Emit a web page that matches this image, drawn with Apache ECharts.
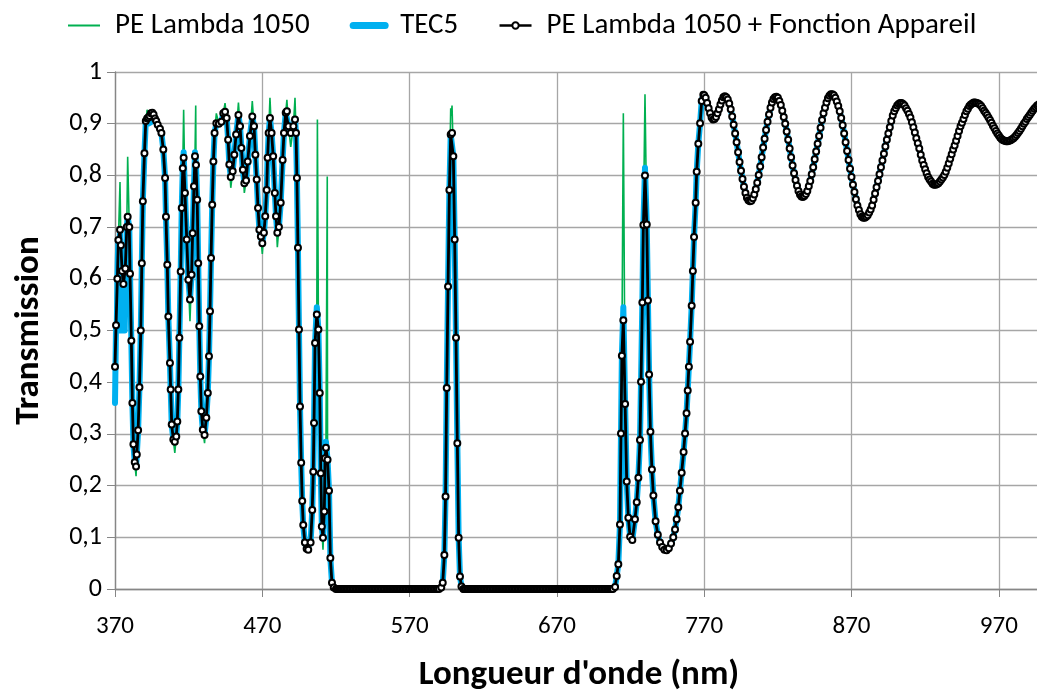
<!DOCTYPE html>
<html>
<head>
<meta charset="utf-8">
<title>Transmission</title>
<script src="https://cdn.jsdelivr.net/npm/echarts@6/dist/echarts.min.js"></script>
<style>
  html, body { margin: 0; padding: 0; background: #fff; }
  #main { width: 1037px; height: 690px; }
</style>
</head>
<body>
<div id="main"></div>
<script>
// longueurs d'onde (nm) et transmission de la courbe noire (PE Lambda 1050 + Fonction Appareil)
const blackNm = [
  370.0, 370.7, 371.6, 372.3, 373.4, 374.0, 374.8, 375.7, 377.0, 378.0, 378.6, 379.7, 380.2, 381.1, 381.8, 382.5,
  383.4, 384.3, 384.8, 385.7, 386.6, 387.5, 388.2, 388.9, 390.0, 390.9, 391.8, 392.6, 393.5, 394.4, 395.3, 396.2,
  397.1, 398.0, 399.0, 400.5, 401.5, 402.8, 404.0, 404.6, 405.5, 406.2, 407.3, 407.8, 408.5, 409.6, 410.6, 411.6,
  412.3, 413.0, 413.7, 414.6, 415.3, 416.0, 416.6, 417.5, 418.7, 419.8, 420.9, 422.0, 422.7, 423.6, 424.3, 425.0,
  425.8, 426.5, 427.2, 427.9, 428.6, 429.6, 430.8, 432.0, 433.0, 433.8, 434.5, 435.2, 436.0, 436.8, 437.6, 438.8,
  440.5, 442.2, 443.5, 444.7, 445.8, 446.8, 447.6, 448.6, 449.9, 451.0, 452.2, 453.8, 454.9, 455.8, 456.8, 457.8,
  459.0, 460.1, 461.6, 463.2, 464.4, 465.3, 466.2, 467.1, 468.0, 469.0, 470.0, 471.1, 472.0, 473.0, 473.6, 474.3,
  475.2, 476.3, 477.4, 478.5, 479.3, 480.2, 481.3, 482.5, 483.8, 484.7, 485.9, 486.7, 487.8, 489.3, 491.1, 492.2,
  492.9, 493.5, 494.2, 494.9, 495.6, 496.4, 497.1, 497.8, 498.9, 500.1, 501.2, 502.8, 503.9, 504.6, 505.1, 505.8,
  507.0, 508.1, 509.0, 509.7, 510.4, 511.2, 512.1, 512.6, 513.2, 514.3, 515.3, 516.2, 517.3, 518.5, 520,
  521, 522, 523, 524, 525, 526, 527, 528, 529, 530, 531, 532, 533, 534, 535, 536, 537, 538, 539, 540,
  541, 542, 543, 544, 545, 546, 547, 548, 549, 550, 551, 552, 553, 554, 555, 556, 557, 558, 559, 560,
  561, 562, 563, 564, 565, 566, 567, 568, 569, 570, 571, 572, 573, 574, 575, 576, 577, 578, 579, 580,
  581, 582, 583, 584, 585, 586, 587, 588, 589, 590,
  591.5, 592.5, 593.6, 594.4, 595.2, 596.1, 597.0, 597.9, 598.8, 599.7, 600.6, 601.5, 602.4, 603.3, 604.2, 605.2, 606.5,
  607, 608, 609, 610, 611, 612, 613, 614, 615, 616, 617, 618, 619, 620, 621, 622, 623, 624, 625, 626,
  627, 628, 629, 630, 631, 632, 633, 634, 635, 636, 637, 638, 639, 640, 641, 642, 643, 644, 645, 646,
  647, 648, 649, 650, 651, 652, 653, 654, 655, 656, 657, 658, 659, 660, 661, 662, 663, 664, 665, 666,
  667, 668, 669, 670, 671, 672, 673, 674, 675, 676, 677, 678, 679, 680, 681, 682, 683, 684, 685, 686,
  687, 688, 689, 690, 691, 692, 693, 694, 695, 696, 697, 698, 699, 700, 701, 702, 703, 704, 705, 706,
  707, 708,
  709.5, 710.6, 711.7, 712.8, 713.5, 714.1, 715.1, 716.3, 717.4, 718.5, 719.7, 721.2, 723.0, 724.2, 725.3, 726.4,
  727.1, 728.0, 728.7, 729.8, 731.0, 731.8, 732.6, 733.5, 734.5, 735.5, 737.0, 738.5, 740.0, 741.5, 743.0, 744.5,
  746.0, 747.5, 749.0, 750.2, 751.3, 752.4, 753.5, 754.7, 756.0, 757.0, 758.0, 758.8, 759.6, 760.4, 761.5, 762.3,
  763.1, 764.2, 764.9, 766.0, 767.2, 768.3, 769.4,
  770, 771, 772, 773, 774, 775, 776, 777, 778, 779, 780, 781, 782, 783, 784, 785, 786, 787, 788, 789,
  790, 791, 792, 793, 794, 795, 796, 797, 798, 799, 800, 801, 802, 803, 804, 805, 806, 807, 808, 809,
  810, 811, 812, 813, 814, 815, 816, 817, 818, 819, 820, 821, 822, 823, 824, 825, 826, 827, 828, 829,
  830, 831, 832, 833, 834, 835, 836, 837, 838, 839, 840, 841, 842, 843, 844, 845, 846, 847, 848, 849,
  850, 851, 852, 853, 854, 855, 856, 857, 858, 859, 860, 861, 862, 863, 864, 865, 866, 867, 868, 869,
  870, 871, 872, 873, 874, 875, 876, 877, 878, 879, 880, 881, 882, 883, 884, 885, 886, 887, 888, 889,
  890, 891, 892, 893, 894, 895, 896, 897, 898, 899, 900, 901, 902, 903, 904, 905, 906, 907, 908, 909,
  910, 911, 912, 913, 914, 915, 916, 917, 918, 919, 920, 921, 922, 923, 924, 925, 926, 927, 928, 929,
  930, 931, 932, 933, 934, 935, 936, 937, 938, 939, 940, 941, 942, 943, 944, 945, 946, 947, 948, 949,
  950, 951, 952, 953, 954, 955, 956, 957, 958, 959, 960, 961, 962, 963, 964, 965, 966, 967, 968, 969,
  970, 971, 972, 973, 974, 975, 976, 977, 978, 979, 980, 981, 982, 983, 984, 985, 986, 987, 988, 989,
  990, 991, 992, 993, 994, 995, 996, 997, 998, 999, 1000
];
const blackT = [
  .43, .51, .60, .675, .695, .665, .615, .59, .62, .70, .72, .70, .61, .48, .36, .28,
  .245, .237, .26, .307, .39, .50, .63, .75, .843, .905, .91, .912, .915, .92, .921, .918,
  .91, .905, .898, .89, .882, .85, .795, .72, .627, .527, .437, .386, .318, .289, .285, .295,
  .324, .386, .486, .614, .737, .814, .834, .766, .676, .598, .56, .608, .688, .779, .837, .82,
  .753, .63, .508, .411, .344, .308, .298, .331, .379, .45, .537, .64, .743, .827, .882, .901,
  .90, .904, .92, .923, .911, .869, .821, .797, .808, .84, .879, .917, .895, .853, .811, .785,
  .79, .827, .876, .914, .895, .84, .792, .737, .695, .682, .669, .689, .721, .772, .834, .882,
  .911, .882, .837, .766, .721, .689, .70, .747, .83, .882, .921, .924, .895, .882, .895, .908,
  .882, .795, .66, .502, .353, .244, .17, .124, .09, .078, .076, .09, .153, .227, .321, .476,
  .531, .502, .379, .224, .121, .099, .15, .253, .273, .25, .19, .06, .012, .003, 0,
  0, 0, 0, 0, 0, 0, 0, 0, 0, 0, 0, 0, 0, 0, 0, 0, 0, 0, 0, 0,
  0, 0, 0, 0, 0, 0, 0, 0, 0, 0, 0, 0, 0, 0, 0, 0, 0, 0, 0, 0,
  0, 0, 0, 0, 0, 0, 0, 0, 0, 0, 0, 0, 0, 0, 0, 0, 0, 0, 0, 0,
  0, 0, 0, 0, 0, 0, 0, 0, 0, 0,
  .003, .012, .066, .179, .389, .585, .772, .879, .882, .837, .676, .486, .282, .099, .024, .005, 0,
  0, 0, 0, 0, 0, 0, 0, 0, 0, 0, 0, 0, 0, 0, 0, 0, 0, 0, 0, 0,
  0, 0, 0, 0, 0, 0, 0, 0, 0, 0, 0, 0, 0, 0, 0, 0, 0, 0, 0, 0,
  0, 0, 0, 0, 0, 0, 0, 0, 0, 0, 0, 0, 0, 0, 0, 0, 0, 0, 0, 0,
  0, 0, 0, 0, 0, 0, 0, 0, 0, 0, 0, 0, 0, 0, 0, 0, 0, 0, 0, 0,
  0, 0, 0, 0, 0, 0, 0, 0, 0, 0, 0, 0, 0, 0, 0, 0, 0, 0, 0, 0,
  0, 0,
  .004, .025, .048, .125, .301, .451, .52, .358, .208, .138, .101, .095, .135, .168, .215, .288,
  .401, .554, .704, .80, .705, .558, .415, .304, .231, .181, .131, .105, .09, .081, .076, .075,
  .079, .088, .10, .115, .135, .158, .19, .225, .265, .301, .34, .384, .43, .478, .548, .615,
  .681, .747, .807, .861, .901, .944, .956,
  .955, .95, .94, .93, .92, .912, .908, .909, .913, .92, .928, .937, .945, .951, .953, .951, .947, .939, .928, .914,
  .898, .881, .864, .845, .826, .809, .793, .778, .766, .757, .752, .75, .751, .756, .763, .773, .786, .801, .817, .835,
  .854, .871, .888, .904, .918, .931, .941, .948, .951, .952, .95, .944, .936, .925, .913, .90, .885, .869, .852, .835,
  .819, .804, .791, .78, .77, .763, .759, .758, .76, .764, .77, .779, .789, .802, .816, .831, .846, .861, .876, .892,
  .907, .92, .931, .941, .949, .954, .957, .957, .955, .95, .943, .934, .924, .911, .897, .881, .864, .847, .83, .813,
  .797, .782, .768, .754, .742, .733, .725, .72, .718, .718, .72, .723, .728, .734, .742, .753, .765, .777, .789, .802,
  .816, .829, .842, .856, .869, .881, .893, .905, .916, .924, .93, .935, .938, .94, .94, .938, .935, .93, .925, .919,
  .912, .903, .893, .883, .872, .862, .852, .84, .829, .82, .812, .804, .797, .792, .788, .784, .782, .782, .783, .785,
  .788, .792, .796, .801, .807, .815, .823, .832, .841, .85, .858, .867, .876, .886, .895, .902, .909, .917, .924, .929,
  .934, .937, .939, .941, .941, .94, .939, .937, .934, .93, .925, .921, .917, .912, .907, .902, .896, .891, .886, .881,
  .877, .873, .87, .868, .867, .866, .866, .867, .868, .87, .872, .875, .878, .882, .886, .89, .895, .90, .904, .909,
  .913, .917, .921, .925, .929, .932, .935, .937, .939, .94, .94
];

// TEC5 : points où la courbe bleue s'écarte de la noire
const blueNm = [370.0, 371.2, 371.9, 372.6, 373.1, 373.7, 374.4, 375.2, 376.0, 376.6, 377.4,
  392.6, 393.5, 394.4, 395.3, 416.6, 424.3, 507.0, 513.2, 715.1, 729.8];
const blueT = [.36, .50, .64, .50, .64, .50, .63, .50, .62, .50, .63,
  .90, .90, .903, .905, .845, .845, .545, .285, .545, .815];

// PE Lambda 1050 : pics et creux où la courbe verte s'écarte de la noire
const greenNm = [370.0, 373.4, 378.6, 384.3, 391.8, 410.6, 416.6, 420.9, 424.8, 430.8, 438.8, 444.7,
  448.6, 453.8, 457.8, 463.2, 470.0, 475.2, 480.2, 486.7, 489.3, 492.2, 507.4, 511.2, 514.1,
  597.9, 598.3, 598.8, 715.1, 729.8, 856];
const greenT = [.37, .787, .836, .218, .927, .263, .927, .518, .935, .282, .92, .94,
  .776, .941, .766, .944, .648, .95, .661, .946, .855, .95, .908, .076, .798,
  .93, .915, .935, .92, .957, .963];

function withChanges(nm, t) {
  const m = new Map();
  blackNm.forEach((x, i) => m.set(x, blackT[i]));
  nm.forEach((x, i) => m.set(x, t[i]));
  return [...m.entries()].sort((a, b) => a[0] - b[0]);
}

const FONT = 'Carlito, Lato, "Open Sans", sans-serif';
const chart = echarts.init(document.getElementById('main'), null, {renderer: 'canvas'});

chart.setOption({
  animation: false,
  backgroundColor: '#fff',
  textStyle: {fontFamily: FONT, color: '#000'},
  legend: {
    left: 62,
    top: 6,
    itemWidth: 32,
    itemHeight: 8,
    itemGap: 40,
    textStyle: {fontSize: 29, color: '#000', fontFamily: FONT, padding: [0, 0, 0, 10]},
    data: [
      {name: 'PE Lambda 1050', itemStyle: {opacity: 0}, lineStyle: {width: 2, color: '#00b050'}},
      {name: 'TEC5', itemStyle: {opacity: 0}, lineStyle: {width: 7, color: '#00b0f0', cap: 'round'}},
      {name: 'PE Lambda 1050 + Fonction Appareil', lineStyle: {width: 2.5, color: '#000'}}
    ]
  },
  grid: {left: 115, top: 72, width: 928, height: 517, containLabel: false, outerBoundsMode: 'none'},
  xAxis: {
    type: 'value',
    min: 370,
    max: 1000,
    interval: 100,
    name: "Longueur d'onde (nm)",
    nameLocation: 'middle',
    nameGap: 69,
    nameTextStyle: {fontSize: 35, fontWeight: 'bold', color: '#000', fontFamily: FONT},
    axisLine: {show: true, onZero: false, lineStyle: {color: '#868686', width: 1.3}},
    axisTick: {show: true, length: 8, lineStyle: {color: '#868686'}},
    axisLabel: {fontSize: 25, color: '#000', margin: 25, showMaxLabel: false, fontFamily: FONT},
    splitLine: {show: true, lineStyle: {color: '#a6a6a6', width: 1.3}}
  },
  yAxis: {
    type: 'value',
    min: 0,
    max: 1,
    interval: 0.1,
    name: 'Transmission',
    nameLocation: 'middle',
    nameGap: 68,
    nameTextStyle: {fontSize: 35, fontWeight: 'bold', color: '#000', fontFamily: FONT},
    axisLine: {show: true, lineStyle: {color: '#868686', width: 1.3}},
    axisTick: {show: true, length: 8, lineStyle: {color: '#868686'}},
    axisLabel: {
      fontSize: 26, color: '#000', margin: 13, fontFamily: FONT,
      formatter: v => (v === 0 || v === 1) ? String(v) : v.toFixed(1).replace('.', ',')
    },
    splitLine: {show: true, lineStyle: {color: '#a6a6a6', width: 1.3}}
  },
  series: [
    {
      name: 'PE Lambda 1050',
      type: 'line',
      data: withChanges(greenNm, greenT),
      showSymbol: false,
      symbol: 'none',
      clip: false,
      z: 1,
      lineStyle: {color: '#00b050', width: 1.6},
      itemStyle: {color: '#00b050'}
    },
    {
      name: 'TEC5',
      type: 'line',
      data: withChanges(blueNm, blueT),
      showSymbol: false,
      symbol: 'none',
      clip: false,
      z: 2,
      lineStyle: {color: '#00b0f0', width: 6, cap: 'round', join: 'round'},
      itemStyle: {color: '#00b0f0'}
    },
    {
      name: 'PE Lambda 1050 + Fonction Appareil',
      type: 'line',
      data: blackNm.map((x, i) => [x, blackT[i]]),
      symbol: 'emptyCircle',
      symbolSize: 6,
      showAllSymbol: true,
      clip: false,
      z: 3,
      lineStyle: {color: '#000', width: 2.8},
      itemStyle: {color: '#000', borderWidth: 2}
    }
  ]
});
</script>
</body>
</html>
